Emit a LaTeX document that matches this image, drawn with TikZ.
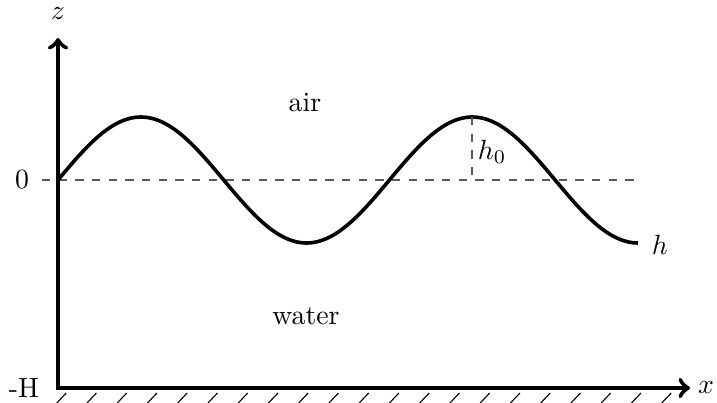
\documentclass[tikz,border=0pt]{standalone}
\begin{document}
\begin{tikzpicture}[x=0.36pt,y=-0.36pt,
  axis/.style={line width=1.6pt,<->},
  wave/.style={line width=1.3pt},
  guide/.style={dashed,line width=0.45pt,draw=black!65},
  hatchline/.style={line width=0.4pt},
  lbl/.style={inner sep=0pt}]
\useasboundingbox (0,0) rectangle (717,403);
\coordinate (O) at (58,388);
\coordinate (ytip) at (58,38);
\coordinate (xtip) at (690,388);
\coordinate (zr) at (640,180);
\coordinate (zs) at (42,180);
\coordinate (peak) at (472,117);
\coordinate (peakbase) at (472,180);
% dashed zero level
\draw[guide] (zs) -- (zr);
% axes
\draw[axis] (ytip) -- (O) -- (xtip);
% hatching below x axis
\foreach \i in {0,...,20} \draw[hatchline] ({56.7+30.25*\i},403) -- ++(9.5,-10);
% wave
\draw[wave] plot[domain=0:630,samples=120,smooth] ({58+\x*0.92063},{180-63*sin(\x)});
\draw[guide] (peak) -- (peakbase);
% labels
\node[lbl] (zlab) at (58,14) {$z$};
\node[lbl] (xlab) at (706,388) {$x$};
\node[lbl] (zero) at (22,180) {0};
\node[lbl] (mH) at (24,388) {-H};
\node[lbl] (h0) at (492,152) {$h_0$};
\node[lbl] (h) at (660,245) {$h$};
\node[lbl] (air) at (305,103) {air};
\node[lbl] (water) at (306,316) {water};
\end{tikzpicture}
\end{document}
